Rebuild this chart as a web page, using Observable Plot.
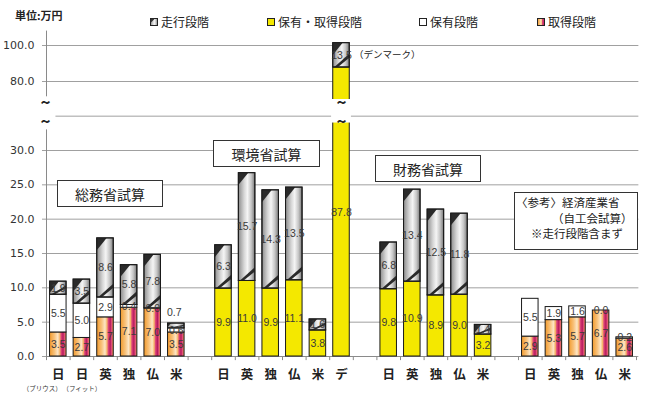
<!DOCTYPE html>
<html><head><meta charset="utf-8">
<script src="https://cdn.jsdelivr.net/npm/d3@7"></script>
<script src="https://cdn.jsdelivr.net/npm/@observablehq/plot@0.6"></script>
<style>
body{margin:0;background:#fff;}
#wrap{position:relative;width:647px;height:394px;overflow:hidden;font-family:"Noto Sans CJK JP","Noto Sans",sans-serif;color:#222;}
#wrap svg.main{position:absolute;left:0;top:0;}
.box{position:absolute;border:1px solid #333;background:#fff;font-size:14px;display:flex;align-items:center;justify-content:center;box-sizing:border-box;}
.t{position:absolute;white-space:nowrap;line-height:1;}
.lg{position:absolute;font-size:12px;white-space:nowrap;line-height:1;display:flex;align-items:center;gap:3px;}
</style></head><body><div id="wrap"></div>
<script>
// ---------- data ----------
const seriesNames = ["走行段階", "保有・取得段階", "保有段階", "取得段階"];
const unitLabel = "単位:万円";
const groupTitles = ["総務省試算", "環境省試算", "財務省試算"];
const refLines = ["〈参考〉経済産業省", "（自工会試算）", "※走行段階含まず"];
const denmarkNote = "（デンマーク）";

const somuCats = ["日", "日", "英", "独", "仏", "米"];
const somuNotes = ["（プリウス）", "（フィット）", "", "", "", ""];
const somuAcq = [3.5, 2.7, 5.7, 7.1, 7.0, 3.5];
const somuHold = [5.5, 5.0, 2.9, 0.4, 0.0, 0.6];
const somuDrive = [1.9, 3.5, 8.6, 5.8, 7.8, 0.7];

const kankyoCats = ["日", "英", "独", "仏", "米", "デ"];
const kankyoBoth = [9.9, 11.0, 9.9, 11.1, 3.8, 87.8];
const kankyoDrive = [6.3, 15.7, 14.3, 13.5, 1.6, 13.5];

const zaimuCats = ["日", "英", "独", "仏", "米"];
const zaimuBoth = [9.8, 10.9, 8.9, 9.0, 3.2];
const zaimuDrive = [6.8, 13.4, 12.5, 11.8, 1.4];

const metiCats = ["日", "英", "独", "仏", "米"];
const metiAcq = [2.9, 5.3, 5.7, 6.7, 2.6];
const metiHold = [5.5, 1.9, 1.6, 0.0, 0.2];

const yTicksLow = [0, 5, 10, 15, 20, 25, 30];
const yTicksHigh = [80, 100];
const yGridExtra = [35];

// ---------- build ----------
const breakLo = 34, breakHi = 70;
const groups = [
  {cats: somuCats, notes: somuNotes, stacks: [["acq", somuAcq], ["hold", somuHold], ["drive", somuDrive]]},
  {cats: kankyoCats, stacks: [["both", kankyoBoth], ["drive", kankyoDrive]]},
  {cats: zaimuCats, stacks: [["both", zaimuBoth], ["drive", zaimuDrive]]},
  {cats: metiCats, stacks: [["acq", metiAcq], ["hold", metiHold]]}
];
const segs = [], catRows = [];
let slot = 0;
groups.forEach((g, gi) => {
  if (gi > 0) slot++;
  g.cats.forEach((c, i) => {
    catRows.push({slot, cat: c, note: g.notes ? g.notes[i] : "", i, gi});
    let base = 0;
    g.stacks.forEach(([s, vals], k) => {
      const v = vals[i];
      segs.push({slot, series: s, value: v, y1: base, y2: base + v, top: k === g.stacks.length - 1});
      base += v;
    });
    slot++;
  });
});
const nSlots = slot;
const breakSlots = segs.filter(d => d.y1 < breakLo && d.y2 > breakHi).map(d => d.slot);

const labels = segs.map(d => {
  const above = d.top && d.value >= 0.5 && d.value < 1;
  const spans = d.y1 < breakLo && d.y2 > breakLo;
  const hi = spans ? breakLo + 8 : d.y2;
  return {...d, above, ly: above ? d.y2 : (d.y1 + hi) / 2};
});
const fmt = d3.format(".1f");
const fills = {acq: "url(#gAcq)", hold: "#ffffff", both: "#f4e800", drive: "url(#gDrive)"};
const rectOpts = {x1: d => d.slot + 0.15, x2: d => d.slot + 0.85, y1: "y1", y2: "y2", stroke: "#1a1a1a", strokeWidth: 1};
const notes = catRows.filter(d => d.note);

const svg = Plot.plot({
  width: 647, height: 394,
  marginLeft: 46, marginRight: 11, marginTop: 30, marginBottom: 38,
  x: {type: "linear", domain: [0, nSlots], axis: null},
  y: {type: "linear", domain: [0, 36, 70, 108], range: [356, 108.8, 99, 30.6], axis: null},
  style: {fontFamily: "'Noto Sans CJK JP', sans-serif", background: "transparent"},
  marks: [
    Plot.ruleY([...yTicksLow, ...yTicksHigh], {x1: -0.17, x2: nSlots + 0.1, stroke: "#a0a0a0", strokeWidth: 1}),
    Plot.ruleY(yGridExtra, {x1: 0.4, x2: nSlots + 0.1, stroke: "#a0a0a0", strokeWidth: 1}),
    Plot.ruleX([0], {y1: 0, y2: 33, stroke: "#8a8a8a"}),
    Plot.ruleX([0], {y1: 71.5, y2: 108, stroke: "#8a8a8a"}),
    Plot.ruleY([0], {x1: 0, x2: nSlots, stroke: "#8a8a8a"}),
    Plot.ruleX(d3.range(nSlots + 1), {y1: 0, y2: -0.6, stroke: "#8a8a8a"}),
    Plot.rect(segs.filter(d => d.series === "acq"), {...rectOpts, fill: fills.acq}),
    Plot.rect(segs.filter(d => d.series === "hold"), {...rectOpts, fill: fills.hold}),
    Plot.rect(segs.filter(d => d.series === "both"), {...rectOpts, fill: fills.both}),
    Plot.rect(segs.filter(d => d.series === "drive"), {...rectOpts, fill: fills.drive}),
    // break gap in the tall bar
    Plot.rect(breakSlots, {x1: d => d + 0.08, x2: d => d + 0.92, y1: breakLo, y2: breakHi, fill: "white"}),
    Plot.text(breakSlots, {x: d => d + 0.5, y: breakHi, dy: 4, text: () => "~", fontSize: 17, fontWeight: "bold", fill: "#222"}),
    Plot.text(breakSlots, {x: d => d + 0.5, y: breakLo, dy: 0, text: () => "~", fontSize: 17, fontWeight: "bold", fill: "#222"}),
    // axis break tildes
    Plot.text([0], {x: 0, y: breakHi, dx: -1, dy: 4, text: () => "~", fontSize: 17, fontWeight: "bold", fill: "#222"}),
    Plot.text([0], {x: 0, y: breakLo, dx: -1, dy: 0, text: () => "~", fontSize: 17, fontWeight: "bold", fill: "#222"}),
    // value labels
    Plot.text(labels.filter(d => !d.above), {x: d => d.slot + 0.5, y: "ly", text: d => fmt(d.value), fontSize: 10.5, fontFamily: "'Liberation Sans', Arial, sans-serif", fill: "#3a3a3a"}),
    Plot.text(labels.filter(d => d.above), {x: d => d.slot + 0.5, y: "ly", dy: -11, dx: -2, text: d => fmt(d.value), fontSize: 10.5, fontFamily: "'Liberation Sans', Arial, sans-serif", fill: "#3a3a3a"}),
    // y tick labels
    Plot.text([...yTicksLow, ...yTicksHigh], {y: d => d, text: d => fmt(d), frameAnchor: "left", textAnchor: "end", dx: -12, fontSize: 11, fontFamily: "'DejaVu Sans', sans-serif", fill: "#333"}),
    // category labels
    Plot.text(catRows, {x: d => d.slot + 0.5, text: "cat", frameAnchor: "bottom", dy: 22, fontSize: 12.5, fontWeight: 600, fill: "#222"}),
    Plot.text(notes.slice(0, 1), {x: d => d.slot + 0.5, text: "note", frameAnchor: "bottom", dy: 34, dx: -16, fontSize: 6.5, fill: "#333"}),
    Plot.text(notes.slice(1), {x: d => d.slot + 0.5, text: "note", frameAnchor: "bottom", dy: 34, fontSize: 6.5, fill: "#333"})
  ]
});
svg.classList.add("main");

// gradients
const defs = d3.select(svg).insert("defs", ":first-child");
const gA = defs.append("linearGradient").attr("id", "gAcq").attr("x1", 0).attr("x2", 1).attr("y1", 0).attr("y2", 0);
[[0, "#f29a2c"], [0.3, "#f8c27c"], [0.5, "#fde6c6"], [0.62, "#f6b468"], [0.7, "#dd4779"], [0.82, "#b81a5c"], [0.9, "#e0507a"], [1, "#f0993e"]]
  .forEach(([o, c]) => gA.append("stop").attr("offset", o).attr("stop-color", c));
const gD = defs.append("linearGradient").attr("id", "gDrive").attr("x1", 0).attr("x2", 1).attr("y1", 0).attr("y2", 0);
[[0, "#8c8c8c"], [0.35, "#d6d6d6"], [0.55, "#f5f5f5"], [0.78, "#c6c6c6"], [1, "#7a7a7a"]]
  .forEach(([o, c]) => gD.append("stop").attr("offset", o).attr("stop-color", c));

// diagonal stripes on the driving-stage segments
d3.select(svg).selectAll('g[fill="url(#gDrive)"]').each(function () {
  const g = this;
  const ov = d3.create("svg:g");
  d3.select(g).selectAll("rect").each(function () {
    const x = +this.getAttribute("x"), y = +this.getAttribute("y"),
          w = +this.getAttribute("width"), h = +this.getAttribute("height");
    if (h < 2) return;
    const t = Math.min(h * 0.9, w * 0.75), s = t / (w * 0.75);
    ov.append("polygon").attr("points", `${x},${y} ${x + w * 0.6 * s},${y} ${x},${y + t}`).attr("fill", "#2a2a2a");
    const k = Math.min(1, h / (w * 1.2));
    ov.append("polygon").attr("points",
      `${x + w * 0.1},${y + h} ${x + w * 0.32},${y + h} ${x + w},${y + h - w * 0.55 * k} ${x + w},${y + h - w * 0.8 * k}`)
      .attr("fill", "#2a2a2a");
    ov.append("rect").attr("x", x).attr("y", y).attr("width", w).attr("height", h)
      .attr("fill", "none").attr("stroke", "#1a1a1a");
  });
  g.parentNode.insertBefore(ov.node(), g.nextSibling);
});

const wrap = document.getElementById("wrap");
wrap.appendChild(svg);

// overlays: unit, legend, boxes
function addDiv(cls, style, html) {
  const d = document.createElement("div");
  d.className = cls; d.setAttribute("style", style); d.innerHTML = html;
  wrap.appendChild(d); return d;
}
addDiv("t", "left:15px;top:10px;font-size:11px;font-weight:bold;", unitLabel);
const mk = {
  "走行段階": `<svg width="8" height="8"><rect x="0.5" y="0.5" width="7" height="7" fill="url(#gDrive)" stroke="#222"/><polygon points="0.5,0.5 5,0.5 0.5,5" fill="#333"/></svg>`,
  "保有・取得段階": `<svg width="8" height="8"><rect x="0.5" y="0.5" width="7" height="7" fill="#f4e800" stroke="#222"/></svg>`,
  "保有段階": `<svg width="8" height="8"><rect x="0.5" y="0.5" width="7" height="7" fill="#fff" stroke="#222"/></svg>`,
  "取得段階": `<svg width="8" height="8"><rect x="0.5" y="0.5" width="7" height="7" fill="url(#gAcq)" stroke="#222"/></svg>`
};
const legendX = [150, 267, 419, 537];
seriesNames.forEach((n, i) => addDiv("lg", `left:${legendX[i]}px;top:16px;`, mk[n] + `<span>${n}</span>`));

addDiv("box", "left:57px;top:180px;width:106px;height:27px;", groupTitles[0]);
addDiv("box", "left:213px;top:140px;width:107px;height:27px;", groupTitles[1]);
addDiv("box", "left:375px;top:155px;width:106px;height:27px;", groupTitles[2]);
addDiv("box", "left:514px;top:192px;width:124px;height:58px;display:block;", "");
addDiv("t", "left:516px;top:197px;font-size:11.5px;", refLines[0]);
addDiv("t", "left:552px;top:213px;font-size:11.5px;", refLines[1]);
addDiv("t", "left:531px;top:228px;font-size:11.5px;", refLines[2]);
addDiv("t", "left:354px;top:50px;font-size:9.5px;", denmarkNote);
</script>
</body></html>
